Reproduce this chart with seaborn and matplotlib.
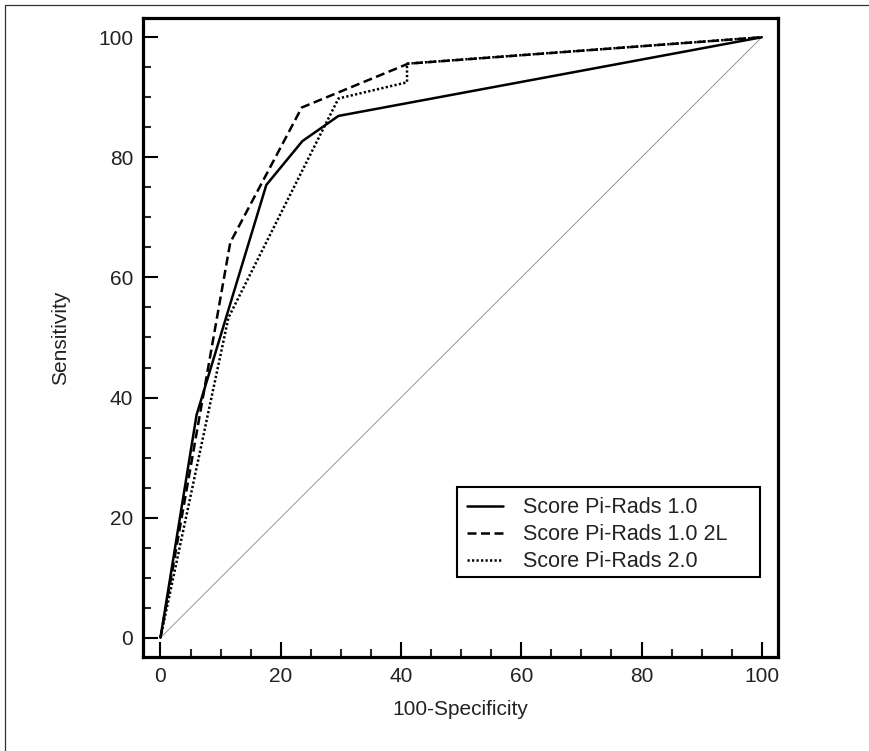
# ROC curves - Pi-Rads scores

import numpy as np
import pandas as pd
import matplotlib
matplotlib.use("Agg")
import matplotlib.pyplot as plt
from matplotlib.lines import Line2D
from matplotlib.patches import Rectangle
import seaborn as sns

# -----------------------------------
# DATA
# -----------------------------------

pr10_x = [0, 6.0, 17.6, 23.6, 29.6, 100]
pr10_y = [0, 37.1, 75.4, 82.7, 86.9, 100]

pr10_2l_x = [0, 11.6, 23.5, 41.2, 100]
pr10_2l_y = [0, 65.8, 88.3, 95.6, 100]

pr20_x = [0, 11.3, 29.6, 41.0, 41.0, 100]
pr20_y = [0, 53.3, 89.8, 92.5, 95.6, 100]

diag = [0, 100]

labels = ["Score Pi-Rads 1.0", "Score Pi-Rads 1.0 2L", "Score Pi-Rads 2.0"]
ticks = [0, 20, 40, 60, 80, 100]

# -----------------------------------
# STYLE
# -----------------------------------

sns.set_style("ticks")
plt.rcParams["font.family"] = ["Liberation Sans", "DejaVu Sans"]

fig = plt.figure(figsize=(8.69, 7.51), dpi=100)
ax = fig.add_axes([0.1646, 0.1252, 0.7307, 0.8508])

# -----------------------------------
# PLOT
# -----------------------------------

sns.lineplot(x=diag, y=diag, ax=ax, color="#888888", linewidth=0.6,
             sort=False, estimator=None)

sns.lineplot(x=pr10_x, y=pr10_y, ax=ax, color="black", linewidth=1.8,
             sort=False, estimator=None, label=labels[0])
sns.lineplot(x=pr10_2l_x, y=pr10_2l_y, ax=ax, color="black", linewidth=1.8,
             linestyle=(0, (3.6, 1.8)), sort=False, estimator=None, label=labels[1])
sns.lineplot(x=pr20_x, y=pr20_y, ax=ax, color="black", linewidth=1.8,
             linestyle=(0, (0.9, 0.9)), sort=False, estimator=None, label=labels[2])

ax.set_xlim(-2.9, 102.7)
ax.set_ylim(-3.2, 103.2)

ax.set_xticks(ticks)
ax.set_yticks(ticks)
ax.set_xticks(np.arange(0, 101, 5), minor=True)
ax.set_yticks(np.arange(0, 101, 5), minor=True)

ax.tick_params(which="major", direction="in", length=11, width=1.5,
               labelsize=15, pad=7, colors="black")
ax.tick_params(which="minor", direction="in", length=6, width=1.5)
ax.tick_params(axis="both", labelcolor="#222222")

for sp in ax.spines.values():
    sp.set_linewidth(2.3)
    sp.set_color("black")

ax.set_xlabel("100-Specificity", fontsize=15, labelpad=10, color="#222222")
ax.set_ylabel("Sensitivity", fontsize=15, labelpad=20, color="#222222")

# legend without its own frame, box drawn separately (wider right padding)
leg = ax.legend(loc="upper left", bbox_to_anchor=(0.510, 0.2496),
                fontsize=15.5, frameon=False, handlelength=1.67,
                handletextpad=0.93, labelspacing=0.27, borderpad=0,
                borderaxespad=0)
for t in leg.get_texts():
    t.set_color("#222222")

ax.add_patch(Rectangle((0.4945, 0.1252), 0.4772, 0.1408, transform=ax.transAxes,
                       fill=False, edgecolor="black", linewidth=1.5, zorder=5))

# outer image border (left and top only)
fig.add_artist(Line2D([0.00575, 0.00575], [0, 0.9933], transform=fig.transFigure,
                      color="#333333", linewidth=0.9))
fig.add_artist(Line2D([0.00575, 1], [0.9933, 0.9933], transform=fig.transFigure,
                      color="#333333", linewidth=0.9))

plt.savefig("out.png", dpi=100)
